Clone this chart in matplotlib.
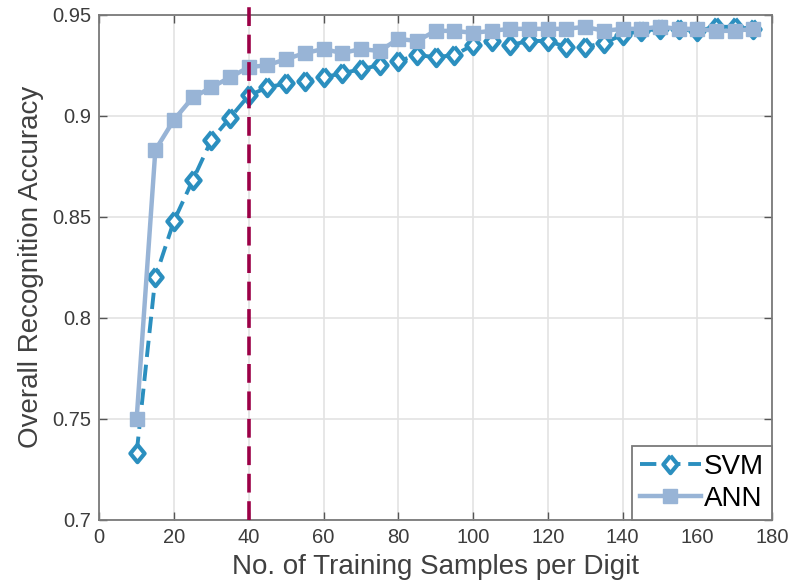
import numpy as np
import matplotlib
matplotlib.use("Agg")
import matplotlib.pyplot as plt

plt.rcParams['font.family'] = ['Liberation Sans', 'DejaVu Sans']

# training samples per digit
samples = list(range(10, 180, 5))

svm_acc = [0.733, 0.820, 0.848, 0.868, 0.888, 0.899, 0.910, 0.914, 0.916, 0.917,
           0.919, 0.921, 0.923, 0.925, 0.927, 0.930, 0.929, 0.930, 0.935, 0.937,
           0.935, 0.937, 0.937, 0.934, 0.934, 0.936, 0.940, 0.942, 0.943, 0.943,
           0.942, 0.944, 0.944, 0.943]

ann_acc = [0.750, 0.883, 0.898, 0.909, 0.914, 0.919, 0.924, 0.925, 0.928, 0.931,
           0.933, 0.931, 0.933, 0.932, 0.938, 0.937, 0.942, 0.942, 0.941, 0.942,
           0.943, 0.943, 0.943, 0.943, 0.944, 0.942, 0.943, 0.943, 0.944, 0.943,
           0.943, 0.942, 0.942, 0.943]

threshold = 40

svm_color = '#2b8fbf'
ann_color = '#98b4d6'
mark_color = '#9b0046'

# slightly tall diamond
diamond = [(0, 1), (0.82, 0), (0, -1), (-0.82, 0), (0, 1)]

fig = plt.figure(figsize=(7.9, 5.88), dpi=100)
ax = fig.add_axes([99.3 / 790, 1 - 519.5 / 588, (772 - 99.3) / 790, (519.5 - 14.7) / 588])

ax.plot(samples, svm_acc, color=svm_color, lw=2.8, dashes=(4.2, 2.0),
        marker=diamond, ms=12.5, mfc='white', mec=svm_color, mew=3, label='SVM', zorder=3)
ax.plot(samples, ann_acc, color=ann_color, lw=3.2, marker='s', ms=10,
        mfc=ann_color, mec=ann_color, label='ANN', zorder=4)

ax.axvline(threshold, ymin=0, ymax=1.016, color=mark_color, lw=2.6,
           dashes=(5.2, 2.4), clip_on=False, zorder=6)

ax.set_xlim(0, 180)
ax.set_ylim(0.7, 0.95)
ax.set_xticks(np.arange(0, 181, 20))
ax.set_yticks([0.7, 0.75, 0.8, 0.85, 0.9, 0.95])
ax.set_yticklabels(['0.7', '0.75', '0.8', '0.85', '0.9', '0.95'])

ax.grid(True, color='#e3e3e3', lw=1.2)
ax.set_axisbelow(True)
ax.tick_params(direction='in', length=6, width=1, color='#555555',
               labelsize=14.5, labelcolor='#3c3c3c', top=True, right=True, pad=6)
for sp in ax.spines.values():
    sp.set_color('#7a7a7a')
    sp.set_linewidth(1.3)

ax.set_xlabel('No. of Training Samples per Digit', fontsize=20, color='#404040', labelpad=5)
ax.set_ylabel('Overall Recognition Accuracy', fontsize=20, color='#404040', labelpad=6)

leg = ax.legend(loc='lower right', fontsize=20, borderaxespad=0, fancybox=False,
                framealpha=1, edgecolor='#7a7a7a', handlelength=2.2,
                handletextpad=0.12, labelspacing=0.2, borderpad=0.28)
leg.get_frame().set_linewidth(1.3)

fig.savefig('out.png', dpi=100)
